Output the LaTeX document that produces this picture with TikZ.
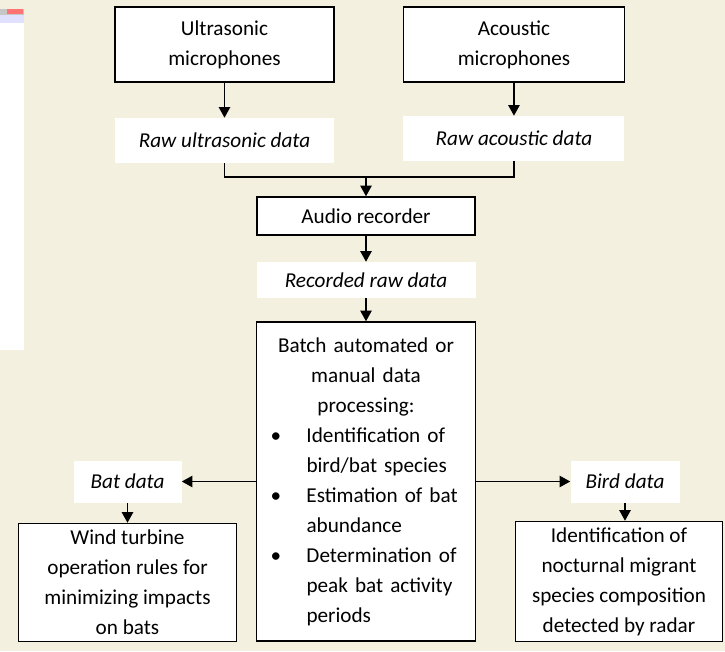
\documentclass[tikz,border=0pt]{standalone}
\usepackage{fontspec}
\setmainfont{Carlito}
\usetikzlibrary{positioning,arrows.meta}
\definecolor{paper}{RGB}{243,240,224}

\begin{document}
\begin{tikzpicture}[x=0.75pt, y=-0.75pt,
    >={Triangle[length=8pt,width=8.5pt]},
    box/.style={
      draw, fill=white, line width=1.1pt, align=center, inner sep=2pt,
      font=\fontsize{15.9}{22.5}\selectfont
    },
    data/.style={
      fill=white, align=center, inner sep=2pt,
      font=\fontsize{15.9}{22.5}\selectfont\itshape
    },
    link/.style={->, line width=1.2pt}
  ]

  % page and background
  \useasboundingbox (0,0) rectangle (725,651);
  \fill[paper] (0,0) rectangle (725,651);

  % window fragment at the left edge
  \fill[white] (0,9) rectangle (24,350);
  \fill[gray!45] (0,9) rectangle (24,15);
  \fill[red!55] (7,9) rectangle (23,14);
  \fill[blue!12] (0,15) rectangle (24,23);

  % ===== sensors =====
  \node[box, minimum width=164.25pt, minimum height=56.25pt] (ultra) at (224.5,44.5)
    {Ultrasonic\\microphones};
  \node[box, minimum width=165.75pt, minimum height=56.25pt, right=51pt of ultra] (acou)
    {Acoustic\\microphones};

  \node[data, minimum width=164.25pt, minimum height=33.75pt, below=26.25pt of ultra] (rawU)
    {Raw ultrasonic data};
  \node[data, minimum width=165.75pt, minimum height=33.75pt, below=24.75pt of acou] (rawA)
    {Raw acoustic data};

  \draw[link] (ultra) -- (rawU);
  \draw[link] (acou) -- (rawA);

  % ===== recorder =====
  \node[box, minimum width=163.5pt, minimum height=28.5pt] (audio) at (366,216)
    {Audio recorder};
  \coordinate[above=14.25pt of audio] (join);
  \draw[line width=1.2pt] (rawU.south) |- (join) -| (rawA.south);
  \draw[link] (join) -- (audio.north);

  \node[data, minimum width=164.25pt, minimum height=27pt, below=19.5pt of audio] (recRaw)
    {Recorded raw data};
  \draw[link] (audio) -- (recRaw);

  % ===== processing =====
  \node[box, align=left, text width=160.25pt, minimum height=239.25pt,
        below=17.25pt of recRaw] (batch) {%
    {\centering Batch automated or\\manual data\\processing:\par}
    \raggedright
    \hspace*{8.5pt}\makebox[27pt][l]{\textbullet}Identification of\\
    \hspace*{35.5pt}bird/bat species\\
    \hspace*{8.5pt}\makebox[27pt][l]{\textbullet}Estimation of bat\\
    \hspace*{35.5pt}abundance\\
    \hspace*{8.5pt}\makebox[27pt][l]{\textbullet}Determination of\\
    \hspace*{35.5pt}peak bat activity\\
    \hspace*{35.5pt}periods\par
  };
  \draw[link] (recRaw) -- (batch);

  % ===== outputs =====
  \node[data, minimum width=81pt, minimum height=31.5pt, left=55.5pt of batch] (batData)
    {Bat data};
  \node[data, minimum width=81.75pt, minimum height=31.5pt, right=70.5pt of batch] (birdData)
    {Bird data};
  \draw[link] (batch.west) -- (batData.east);
  \draw[link] (batch.east) -- (birdData.west);

  \node[box, minimum width=163.5pt, minimum height=88.5pt, below=15pt of batData] (wind)
    {Wind turbine\\operation rules for\\minimizing impacts\\on bats};
  \node[box, minimum width=155.25pt, minimum height=90pt, below=13.5pt of birdData,
        xshift=-4.5pt] (ident)
    {Identification of\\nocturnal migrant\\species composition\\detected by radar};

  \draw[link] (batData) -- (wind);
  \draw[link] (birdData.south) -- (birdData.south |- ident.north);

\end{tikzpicture}
\end{document}
